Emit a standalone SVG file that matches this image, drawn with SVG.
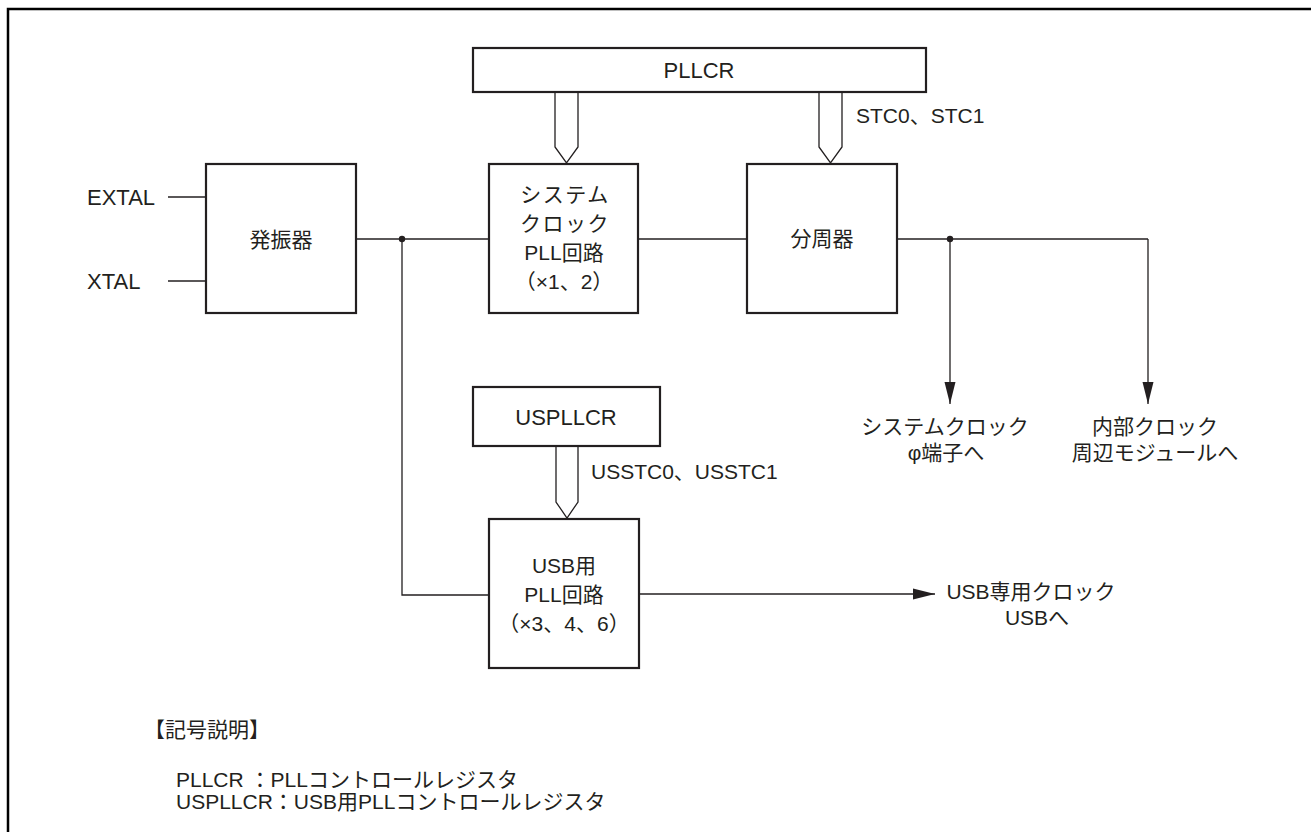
<svg xmlns="http://www.w3.org/2000/svg" width="1311" height="832" viewBox="0 0 1311 832">
<style>
.box{fill:#fff;stroke:#231f20;stroke-width:2.2}
.ln{fill:none;stroke:#231f20;stroke-width:1.3}
.bus{fill:#fff;stroke:#231f20;stroke-width:1.3}
text{font-family:"Liberation Sans","Noto Sans CJK JP",sans-serif;font-size:21px;fill:#231f20}
.l{font-size:22px}
.c{text-anchor:middle}
.sp{letter-spacing:1.5px}
</style>
<defs>
<marker id="ah" markerWidth="22" markerHeight="12" refX="22" refY="6" orient="auto" markerUnits="userSpaceOnUse">
<path d="M0,0.5 L22,6 L0,11.5 Z" fill="#231f20"/>
</marker>
</defs>
<rect x="8" y="9" width="1320" height="840" fill="none" stroke="#000" stroke-width="2.5"/>
<g id="connectors">
<line class="ln" x1="168" y1="197" x2="206" y2="197"/>
<line class="ln" x1="168" y1="281" x2="206" y2="281"/>
<line class="ln" x1="356" y1="239" x2="489" y2="239"/>
<line class="ln" x1="638" y1="239" x2="747" y2="239"/>
<polyline class="ln" points="402,239 402,595 489,595"/>
<line class="ln" x1="897" y1="239" x2="1148" y2="239"/>
<line class="ln" x1="950" y1="239" x2="950" y2="404" marker-end="url(#ah)"/>
<polyline class="ln" points="1148,239 1148,404" marker-end="url(#ah)"/>
<line class="ln" x1="639" y1="594" x2="935" y2="594" marker-end="url(#ah)"/>
<circle cx="402" cy="239" r="3.2" fill="#231f20"/>
<circle cx="950" cy="239" r="3.2" fill="#231f20"/>
<polygon class="bus" points="555,92 555,147 566.5,163 578,147 578,92"/>
<polygon class="bus" points="819,92 819,147 830.5,163 842,147 842,92"/>
<polygon class="bus" points="556,446 556,502 567,518 578,502 578,446"/>
<text x="856" y="123">STC0、STC1</text>
<text x="591" y="479">USSTC0、USSTC1</text>
</g>
<g id="pllcr">
<rect class="box" x="473" y="48" width="453" height="44"/>
<text class="c l" x="699" y="78">PLLCR</text>
</g>
<g id="osc">
<rect class="box" x="206" y="164" width="150" height="149"/>
<text class="c" x="281" y="247">発振器</text>
</g>
<g id="extal"><text class="l" x="87" y="205">EXTAL</text></g>
<g id="xtal"><text class="l" x="87" y="289">XTAL</text></g>
<g id="syspll">
<rect class="box" x="489" y="164" width="149" height="149"/>
<text class="c sp" x="565" y="202">システム</text>
<text class="c sp" x="565" y="231">クロック</text>
<text class="c" x="564" y="260">PLL回路</text>
<text class="c" x="564" y="289">（×1、2）</text>
</g>
<g id="div">
<rect class="box" x="747" y="164" width="150" height="149"/>
<text class="c" x="822" y="246">分周器</text>
</g>
<g id="sysclk">
<text class="c" x="945" y="434">システムクロック</text>
<text class="c" x="946" y="460">φ端子へ</text>
</g>
<g id="intclk">
<text class="c" x="1155" y="434">内部クロック</text>
<text class="c" x="1155" y="460">周辺モジュールへ</text>
</g>
<g id="uspllcr">
<rect class="box" x="473" y="387" width="187" height="59"/>
<text class="c l" x="566" y="425">USPLLCR</text>
</g>
<g id="usbpll">
<rect class="box" x="489" y="519" width="150" height="149"/>
<text class="c" x="564" y="573">USB用</text>
<text class="c" x="564" y="602">PLL回路</text>
<text class="c" x="564" y="631">（×3、4、6）</text>
</g>
<g id="usbclk">
<text class="c" x="1031" y="599">USB専用クロック</text>
<text class="c" x="1037" y="625">USBへ</text>
</g>
<g id="legend">
<text x="144" y="737">【記号説明】</text>
<text x="176" y="787">PLLCR ：PLLコントロールレジスタ</text>
<text x="176" y="809">USPLLCR：USB用PLLコントロールレジスタ</text>
</g>
</svg>
